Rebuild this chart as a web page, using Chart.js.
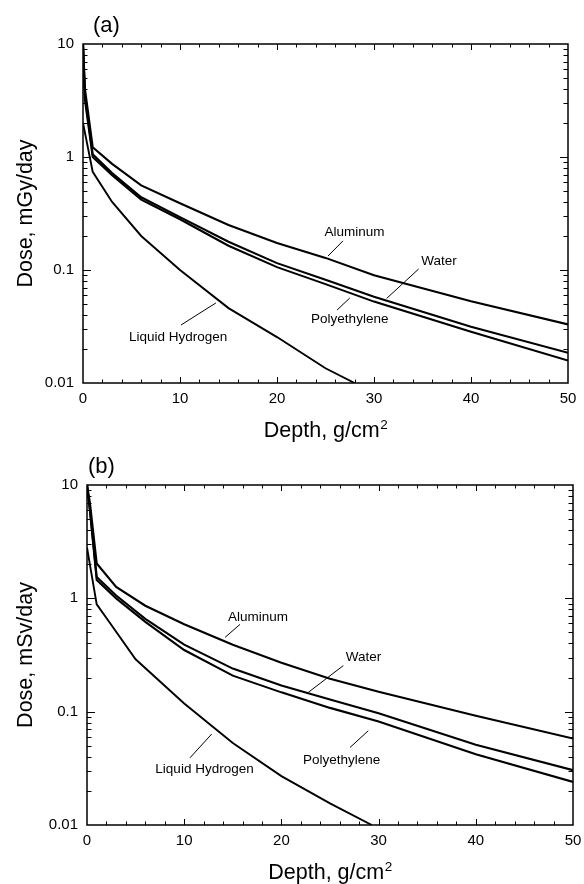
<!DOCTYPE html>
<html><head><meta charset="utf-8">
<script src="https://cdn.jsdelivr.net/npm/chart.js@4.4.1/dist/chart.umd.min.js"></script>
<style>
html,body{margin:0;padding:0;background:#fff;width:584px;height:884px;overflow:hidden;}
canvas{position:absolute;left:0;}
#ca{top:0;} #cb{top:446px;}
</style></head><body>
<canvas id="ca" width="584" height="446"></canvas>
<canvas id="cb" width="584" height="438"></canvas>
<script>
// ---------------- data ----------------
const xTickValues = [0, 10, 20, 30, 40, 50];
const xTickLabels = ['0', '10', '20', '30', '40', '50'];
const yTickValues = [0.01, 0.1, 1, 10];
const yTickLabels = ['0.01', '0.1', '1', '10'];
const seriesNames = ['Aluminum', 'Water', 'Polyethylene', 'Liquid Hydrogen'];

// Panel (a): Dose, mGy/day
const depthA_Al  = [0, 0.2, 1, 3, 6, 10, 15, 20, 25, 30, 35, 40, 50];
const doseA_Al   = [10, 4.0, 1.22, 0.87, 0.56, 0.39, 0.25, 0.173, 0.128, 0.090, 0.069, 0.053, 0.033];
const depthA_H2O = [0, 0.2, 1, 3, 6, 10, 15, 20, 25, 30, 40, 50];
const doseA_H2O  = [10, 3.5, 1.06, 0.72, 0.44, 0.294, 0.178, 0.115, 0.082, 0.058, 0.0315, 0.0185];
const depthA_PE  = [0, 0.2, 1, 3, 6, 10, 15, 20, 25, 30, 40, 50];
const doseA_PE   = [10, 3.2, 1.0, 0.69, 0.42, 0.281, 0.164, 0.106, 0.075, 0.0525, 0.0284, 0.0158];
const depthA_LH2 = [0, 1, 3, 6, 10, 15, 20, 25, 28];
const doseA_LH2  = [2.0, 0.74, 0.40, 0.20, 0.10, 0.046, 0.0255, 0.0135, 0.010];

// Panel (b): Dose, mSv/day
const depthB_Al  = [0, 0.3, 1, 3, 6, 10, 15, 20, 25, 30, 40, 50];
const doseB_Al   = [10, 7.0, 2.03, 1.26, 0.86, 0.59, 0.39, 0.27, 0.195, 0.150, 0.092, 0.058];
const depthB_H2O = [0, 0.3, 1, 3, 6, 10, 15, 20, 25, 30, 40, 50];
const doseB_H2O  = [10, 6.0, 1.54, 1.06, 0.66, 0.39, 0.24, 0.17, 0.128, 0.097, 0.051, 0.0305];
const depthB_PE  = [0, 0.3, 1, 3, 6, 10, 15, 20, 25, 30, 40, 50];
const doseB_PE   = [10, 6.0, 1.45, 1.0, 0.62, 0.35, 0.208, 0.148, 0.108, 0.082, 0.042, 0.024];
const depthB_LH2 = [0, 1, 2.4, 5, 10, 15, 20, 25, 29.3];
const doseB_LH2  = [2.8, 0.885, 0.60, 0.29, 0.118, 0.053, 0.027, 0.0155, 0.010];

// label callouts (in data units: depth, dose)
const calloutsA = [
  {text: 'Aluminum',        tx: 28.0, ty: 0.217,  x1: 25.26, y1: 0.133,  x2: 26.8,  y2: 0.181},
  {text: 'Water',           tx: 36.7, ty: 0.119,  x1: 31.3,  y1: 0.0560, x2: 34.6,  y2: 0.102},
  {text: 'Polyethylene',    tx: 27.5, ty: 0.0368, x1: 26.2,  y1: 0.0443, x2: 27.5,  y2: 0.0565},
  {text: 'Liquid Hydrogen', tx: 9.8,  ty: 0.0255, x1: 10.1,  y1: 0.0326, x2: 13.7,  y2: 0.0511}
];
const calloutsB = [
  {text: 'Aluminum',        tx: 17.6,  ty: 0.68,   x1: 14.2,  y1: 0.452,  x2: 15.74, y2: 0.589},
  {text: 'Water',           tx: 28.45, ty: 0.30,   x1: 22.77, y1: 0.148,  x2: 26.37, y2: 0.255},
  {text: 'Polyethylene',    tx: 26.2,  ty: 0.0376, x1: 27.06, y1: 0.0483, x2: 28.94, y2: 0.0679},
  {text: 'Liquid Hydrogen', tx: 12.09, ty: 0.0313, x1: 10.6,  y1: 0.0392, x2: 12.83, y2: 0.0635}
];

// ---------------- drawing ----------------
const FONT = '"Liberation Sans", Arial, Helvetica, sans-serif';
const pts = (ds, vs) => ds.map((d, i) => ({x: d, y: vs[i]}));

const decorPlugin = {
  id: 'decor',
  afterDatasetsDraw(chart) {
    const o = chart.options.plugins.decor;
    const ctx = chart.ctx, a = chart.chartArea, xs = chart.scales.x, ys = chart.scales.y;
    const seg = (x1, y1, x2, y2) => { ctx.beginPath(); ctx.moveTo(x1, y1); ctx.lineTo(x2, y2); ctx.stroke(); };
    ctx.save();
    ctx.strokeStyle = '#000';
    ctx.fillStyle = '#000';
    // frame
    ctx.lineWidth = 1.5;
    ctx.strokeRect(a.left, a.top, a.right - a.left, a.bottom - a.top);
    // x ticks (inward, top and bottom)
    ctx.lineWidth = 1;
    for (let v = 2; v < 50; v += 2) {
      const px = Math.round(xs.getPixelForValue(v)) + 0.5;
      const len = v % 10 === 0 ? 6 : 3.5;
      seg(px, a.bottom, px, a.bottom - len);
      seg(px, a.top, px, a.top + len);
    }
    // y ticks (inward, left and right)
    for (let e = -2; e <= 0; e++) {
      for (let m = 1; m <= 9; m++) {
        const v = m * Math.pow(10, e);
        if (v <= 0.01) continue;
        const py = Math.round(ys.getPixelForValue(v)) + 0.5;
        const len = m === 1 ? 8 : 4.5;
        seg(a.left, py, a.left + len, py);
        seg(a.right, py, a.right - len, py);
      }
    }
    // callouts
    ctx.font = '13.5px ' + FONT;
    ctx.textAlign = 'center';
    ctx.textBaseline = 'middle';
    ctx.lineWidth = 1;
    o.callouts.forEach(c => {
      seg(xs.getPixelForValue(c.x1), ys.getPixelForValue(c.y1), xs.getPixelForValue(c.x2), ys.getPixelForValue(c.y2));
      ctx.fillText(c.text, xs.getPixelForValue(c.tx), ys.getPixelForValue(c.ty));
    });
    // x title with superscript
    ctx.textAlign = 'left';
    ctx.textBaseline = 'alphabetic';
    ctx.font = '21.5px ' + FONT;
    const t1 = 'Depth, g/cm';
    const w1 = ctx.measureText(t1).width;
    ctx.font = '13.5px ' + FONT;
    const w2 = ctx.measureText('2').width;
    const cx = (a.left + a.right) / 2;
    const by = a.bottom + 54;
    ctx.font = '21.5px ' + FONT;
    ctx.fillText(t1, cx - (w1 + w2) / 2, by);
    ctx.font = '13.5px ' + FONT;
    ctx.fillText('2', cx - (w1 + w2) / 2 + w1 + 0.5, by - 8.5);
    // y title
    ctx.save();
    ctx.translate(32, (a.top + a.bottom) / 2);
    ctx.rotate(-Math.PI / 2);
    ctx.textAlign = 'center';
    ctx.font = '21.5px ' + FONT;
    ctx.fillText(o.yTitle, 0, 0);
    ctx.restore();
    // panel label
    ctx.font = '22px ' + FONT;
    ctx.textAlign = 'left';
    ctx.fillText(o.panel, a.left + o.panelDx, a.top - 12);
    ctx.restore();
  }
};

function makeChart(id, sets, callouts, yTitle, panel, panelDx, L, R, T, B, H) {
  const ds = sets.map((s, i) => ({
    label: seriesNames[i],
    data: pts(s[0], s[1]),
    borderColor: '#000',
    backgroundColor: '#000',
    borderWidth: i === 3 ? 1.9 : 2.1,
    pointRadius: 0,
    tension: 0,
    fill: false
  }));
  return new Chart(document.getElementById(id), {
    type: 'line',
    data: {datasets: ds},
    plugins: [decorPlugin],
    options: {
      responsive: false,
      animation: false,
      devicePixelRatio: 1,
      layout: {padding: {top: T, right: 584 - R, left: 0, bottom: 0}},
      plugins: {
        legend: {display: false},
        tooltip: {enabled: false},
        title: {display: false},
        decor: {callouts: callouts, yTitle: yTitle, panel: panel, panelDx: panelDx}
      },
      scales: {
        x: {
          type: 'linear', min: 0, max: 50,
          grid: {display: false, drawTicks: false},
          border: {display: false},
          afterBuildTicks: s => { s.ticks = xTickValues.map(v => ({value: v})); },
          afterFit: s => { s.height = H - B; s.paddingLeft = 0; s.paddingRight = 0; },
          ticks: {
            autoSkip: false, maxRotation: 0, padding: 7, color: '#000',
            font: {family: FONT, size: 15},
            callback: (v) => xTickLabels[xTickValues.indexOf(v)]
          }
        },
        y: {
          type: 'logarithmic', min: 0.01, max: 10,
          grid: {display: false, drawTicks: false},
          border: {display: false},
          afterBuildTicks: s => { s.ticks = yTickValues.map(v => ({value: v, major: true})); },
          afterFit: s => { s.width = L; s.paddingTop = 0; s.paddingBottom = 0; },
          ticks: {
            autoSkip: false, padding: 9, color: '#000',
            font: {family: FONT, size: 15},
            callback: (v) => {
              let k = -1;
              yTickValues.forEach((t, i) => { if (Math.abs(Math.log10(t) - Math.log10(v)) < 1e-6) k = i; });
              return k >= 0 ? yTickLabels[k] : '';
            }
          }
        }
      }
    }
  });
}

makeChart('ca',
  [[depthA_Al, doseA_Al], [depthA_H2O, doseA_H2O], [depthA_PE, doseA_PE], [depthA_LH2, doseA_LH2]],
  calloutsA, 'Dose, mGy/day', '(a)', 10, 83, 568, 44, 383, 446);
makeChart('cb',
  [[depthB_Al, doseB_Al], [depthB_H2O, doseB_H2O], [depthB_PE, doseB_PE], [depthB_LH2, doseB_LH2]],
  calloutsB, 'Dose, mSv/day', '(b)', 1, 87, 573, 39, 379, 438);
</script>
</body></html>
